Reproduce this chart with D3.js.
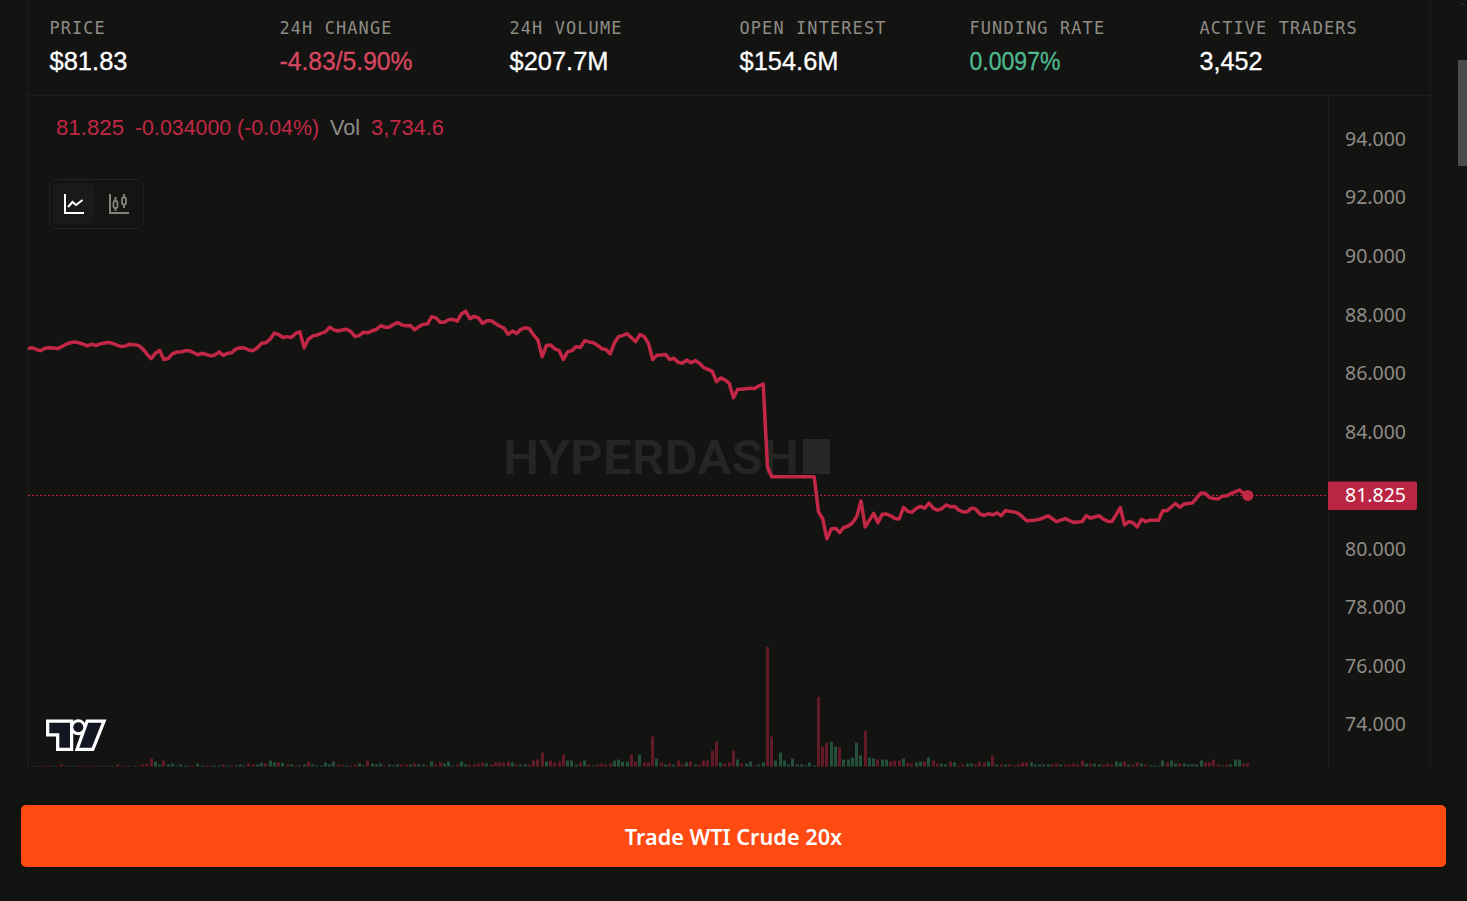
<!DOCTYPE html>
<html>
<head>
<meta charset="utf-8">
<script src="https://cdn.jsdelivr.net/npm/d3@7"></script>
<style>
  html, body { margin: 0; padding: 0; background: #121211; overflow: hidden; }
  svg { display: block; }
  .label { font-family: "DejaVu Sans Mono", monospace; font-size: 18px; fill: #8f8b85; letter-spacing: 1.2px; }
  .value { font-family: "Liberation Sans", sans-serif; font-size: 25.5px; stroke-width: 0.3px; }
  .legend { font-family: "Liberation Sans", sans-serif; font-size: 22px; }
  .axis text { font-family: "Noto Sans", sans-serif; font-size: 20.5px; fill: #8f8b85; }
</style>
</head>
<body>
<div id="chart"></div>
<script>
// header stats
const statLabels = ["PRICE", "24H CHANGE", "24H VOLUME", "OPEN INTEREST", "FUNDING RATE", "ACTIVE TRADERS"]
const statValues = ["$81.83", "-4.83/5.90%", "$207.7M", "$154.6M", "0.0097%", "3,452"]
const statColors = ["#ffffff", "#d8475f", "#ffffff", "#ffffff", "#4fb98f", "#ffffff"]
const statWidths = [78, 133, 99, 99, 91, 63]

// price axis
const priceTicks = [94, 92, 90, 88, 86, 84, 80, 78, 76, 74]
const lastPrice = 81.825

// close prices
const prices = [
  86.84, 86.87, 86.81, 86.77, 86.85, 86.87, 86.86, 86.84, 86.91, 86.99,
  87.04, 87.07, 87.04, 86.99, 86.93, 86.99, 86.94, 87.00, 87.03, 87.05,
  87.02, 86.96, 86.91, 86.93, 86.99, 86.97, 86.95, 86.84, 86.66, 86.50,
  86.68, 86.78, 86.47, 86.50, 86.66, 86.72, 86.72, 86.77, 86.77, 86.70,
  86.63, 86.68, 86.64, 86.59, 86.62, 86.73, 86.61, 86.68, 86.70, 86.83,
  86.87, 86.86, 86.79, 86.77, 86.87, 87.02, 87.04, 87.16, 87.37, 87.32,
  87.22, 87.25, 87.22, 87.36, 87.41, 86.87, 87.16, 87.27, 87.30, 87.36,
  87.41, 87.57, 87.48, 87.44, 87.48, 87.50,
  87.42, 87.25, 87.29, 87.40, 87.38, 87.45, 87.50, 87.62, 87.57, 87.57,
  87.66, 87.73, 87.65, 87.62, 87.63, 87.48, 87.59, 87.67, 87.68, 87.93,
  87.89, 87.74, 87.74, 87.83, 87.84, 87.78, 88.02, 88.12, 87.86, 87.94,
  87.89, 87.70, 87.79, 87.79, 87.70, 87.61, 87.54, 87.33, 87.44, 87.36,
  87.50, 87.55, 87.52, 87.30, 87.13, 86.56, 86.95, 86.96, 86.83, 86.77,
  86.47, 86.73, 86.77, 86.91, 86.88, 87.11, 87.07, 87.04, 86.96, 86.84,
  86.81, 86.66, 87.04, 87.25, 87.29, 87.35, 87.21, 87.08, 87.32, 87.25,
  87.02, 86.47, 86.61, 86.62, 86.64, 86.47, 86.51, 86.37, 86.34, 86.45,
  86.36, 86.43, 86.34, 86.19, 86.13, 86.06, 85.71, 85.84, 85.77, 85.65,
  85.16, 85.45, 85.45, 85.47, 85.49, 85.48, 85.57, 85.63,
  82.80,
  82.46, 82.46, 82.46, 82.46, 82.46, 82.46, 82.46, 82.46, 82.46, 82.46, 82.46,
  81.27, 81.02, 80.34, 80.68, 80.70, 80.56, 80.73, 80.78, 80.89, 81.10,
  81.63, 80.75, 80.98, 81.21, 80.89, 81.18, 81.19, 81.13, 81.04, 81.02,
  81.42, 81.28, 81.25, 81.38, 81.45, 81.39, 81.56, 81.39, 81.32, 81.37,
  81.50, 81.44, 81.45, 81.32, 81.26, 81.27, 81.39, 81.36, 81.19, 81.14,
  81.20, 81.16, 81.23, 81.13, 81.31, 81.28, 81.26, 81.21, 81.09, 80.96,
  80.97, 80.98, 81.01, 81.07, 81.13, 81.03, 80.93, 80.98, 81.03, 80.97,
  80.90, 80.92, 80.93, 81.13, 81.05, 81.09, 81.13, 81.02, 80.94, 80.93,
  81.16, 81.41, 80.82, 80.93, 80.89, 80.75, 81.01, 80.93, 80.98, 80.98,
  80.98, 81.30, 81.30, 81.43, 81.55, 81.42, 81.53, 81.55, 81.57, 81.74,
  81.91, 81.90, 81.75, 81.72, 81.70, 81.80, 81.81, 81.89, 81.95, 82.01,
  81.90, 81.825
]

// volume per bar, in thousands
const volumes = [
  0.8, 0.8, 0.8, 0.8, 0.8, 0.8, 0.8, 0.8, 2.5, 0.8,
  0.8, 0.8, 0.8, 0.8, 0.8, 0.8, 0.8, 0.8, 0.8, 0.8,
  0.8, 2.5, 0.8, 0.8, 0.8, 0.8, 0.8, 2.5, 3.7, 10,
  6.2, 2.5, 7.5, 2.5, 3.7, 1.2, 2.5, 1.2, 1.2, 1.2,
  3.7, 1.2, 1.2, 1.2, 1.2, 1.2, 2.5, 1.2, 1.2, 1.2,
  2.5, 1.2, 3.7, 2.5, 2.5, 5, 3.7, 7.5, 5, 5,
  5, 2.5, 2.5, 1.2, 1.2, 2.5, 6.2, 2.5, 1.2, 1.2,
  5, 2.5, 6.2, 2.5, 1.2, 1.2, 1.2, 2.5, 3.7, 1.2,
  7.5, 3.7, 2.5, 3.7, 1.2, 2.5, 1.2, 2.5, 2.5, 2.5,
  2.5, 3.7, 2.5, 2.5, 1.2, 6.2, 2.5,
  5, 3.7, 6.2, 1.2, 2.5, 6.2, 2.5, 2.5, 2.5, 3.7,
  5, 3.7, 2.5, 5, 5, 5, 6.2, 5, 2.5, 2.5,
  2.5, 2.5, 7.5, 8.7, 17.4, 6.2, 7.5, 5, 6.2, 14.9,
  7.5, 7.5, 2.5, 5, 7.5, 2.5, 1.2, 2.5, 3.7, 2.5,
  3.7, 7.5, 8.7, 6.2, 6.2, 14.9, 6.2, 14.9, 5, 5,
  37.4, 10, 5, 2.5, 3.7, 2.5, 7.5, 2.5, 5, 6.2,
  2.5, 2.5, 7.5, 7.5, 19.9, 31.1, 5, 3.7, 5, 19.9,
  8.7, 3.7, 3.7, 6.2, 1.2, 2.5, 5, 149.4, 37.4, 7.5,
  17.4, 7.5, 2.5, 10, 2.5, 2.5, 1.2, 5, 1.2, 87.2,
  24.9, 29.9, 31.1, 24.9, 23.7, 8.7, 8.7, 11.2, 29.9,
  13.7, 44.8, 11.2, 10, 8.7, 8.7, 8.7, 6.2, 7.5, 7.5,
  10, 5, 3.7, 5, 6.2, 6.2, 11.2, 7.5, 3.7, 3.7,
  2.5, 6.2, 5, 1.2, 2.5, 3.7, 3.7, 2.5, 6.2, 5,
  6.2, 13.7, 2.5, 2.5, 2.5, 2.5, 1.2, 2.5, 5, 5,
  5, 2.5, 2.5, 2.5, 2.5, 2.5, 3.7, 2.5, 2.5, 2.5,
  3.7, 2.5, 7.5, 3.7, 3.7, 3.7, 2.5, 2.5, 3.7, 2.5,
  6.2, 5, 6.2, 2.5, 2.5, 5, 3.7, 2.5, 1.2, 1.2,
  1.2, 7.5, 5, 7.5, 3.7, 3.7, 3.7, 2.5, 2.5, 2.5,
  7.5, 5, 5, 8.7, 2.5, 1.2, 2.5, 2.5, 8.7, 8.7,
  3.7, 3.7
]
// bar direction, same order as volumes: g = up, r = down
const volumeSides = [
  "ggrrrrgrrg", "ggrrrrrggg", "grrrggrrrr", "ggrgggggrr", "ggrrggrgrg",
  "ggrrggrggr", "grgrggrggg", "gggrrgrrgg", "rgggrgggrr", "grggrgr",
  "rgggrggrrr", "rgrrrrrgrg", "grrrrgrrrr", "gggrgrgrrr", "rggggrrgrr",
  "rgrgrgrrgr", "grrrrrgrrr", "grggrggrrg", "gggggggggr", "rrggrgggg",
  "grggrggrrr", "grrggrgrrg", "grgrrggrrr", "grgrgrrrrr", "gggggrrgrr",
  "rrrgrggrrr", "ggrgrrgrgg", "ggrggrgggg", "grrrrgrggg", "rr"
].join("")

const width = 1467, height = 901
const redLine = "#c22845", borderColor = "#1f1e1d", mutedText = "#8f8b85"

let svg = d3.select("#chart").append("svg")
  .attr("width", width)
  .attr("height", height)

// panel frame
svg.append("rect").attr("x", 27).attr("y", 0).attr("width", 1403).attr("height", 767).attr("fill", "#131312")
const frame = [[27, 0, 27, 767], [1430, 0, 1430, 767], [27, 95.5, 1430, 95.5], [1328, 96, 1328, 767]]
svg.selectAll("line.frame")
  .data(frame)
  .enter()
  .append("line")
  .attr("class", "frame")
  .attr("x1", d => d[0] + (d[0] === d[2] ? 0.5 : 0))
  .attr("y1", d => d[1])
  .attr("x2", d => d[2] + (d[0] === d[2] ? 0.5 : 0))
  .attr("y2", d => d[3])
  .attr("stroke", borderColor)

// stats row
let stats = svg.selectAll("g.stat")
  .data(statLabels)
  .enter()
  .append("g")
  .attr("class", "stat")
  .attr("transform", (d, i) => `translate(${49.5 + i * 230},0)`)
stats.append("text").attr("class", "label").attr("y", 34)
  .attr("textLength", d => d.length * 11.35 - 0.5)
  .attr("lengthAdjust", "spacingAndGlyphs")
  .text(d => d)
stats.append("text").attr("class", "value").attr("y", 70)
  .attr("fill", (d, i) => statColors[i])
  .attr("stroke", (d, i) => statColors[i])
  .attr("textLength", (d, i) => statWidths[i])
  .attr("lengthAdjust", "spacingAndGlyphs")
  .text((d, i) => statValues[i])

// scales
const x = d3.scalePoint(d3.range(prices.length), [27.8, 1247.8])
const y = d3.scaleLinear([94, 74], [139, 724.5])
const yVol = d3.scaleLinear([0, d3.max(volumes)], [766.5, 647])

svg.append("clipPath").attr("id", "pane")
  .append("rect").attr("x", 28).attr("y", 96).attr("width", 1300).attr("height", 671)

// watermark sits under the marks
svg.append("text")
  .attr("x", 503).attr("y", 474)
  .attr("font-family", "Roboto, sans-serif")
  .attr("font-weight", 600)
  .attr("font-size", 49)
  .attr("textLength", 296)
  .attr("lengthAdjust", "spacingAndGlyphs")
  .attr("fill", "#252524")
  .text("HYPERDASH")
svg.append("rect").attr("x", 803).attr("y", 439).attr("width", 27).attr("height", 35).attr("fill", "#282726")

let pane = svg.append("g").attr("clip-path", "url(#pane)")

// volume bars
pane.selectAll("rect.vol")
  .data(volumes)
  .enter()
  .append("rect")
  .attr("class", "vol")
  .attr("x", (d, i) => Math.round(x(i) - 1.5))
  .attr("y", d => yVol(d))
  .attr("width", 3)
  .attr("height", d => yVol(0) - yVol(d))
  .attr("fill", (d, i) => volumeSides[i] === "g" ? "#244f3d" : "#621b26")

// last price line
svg.append("line")
  .attr("x1", 28).attr("x2", 1328)
  .attr("y1", y(lastPrice)).attr("y2", y(lastPrice))
  .attr("stroke", redLine)
  .attr("stroke-width", 1)
  .attr("stroke-dasharray", "2,2")

// price line
const line = d3.line()
  .x((d, i) => x(i))
  .y(d => y(d))
pane.append("path")
  .datum(prices)
  .attr("d", line)
  .attr("fill", "none")
  .attr("stroke", redLine)
  .attr("stroke-width", 3.5)
  .attr("stroke-linejoin", "round")
pane.append("circle")
  .attr("cx", x(prices.length - 1))
  .attr("cy", y(lastPrice))
  .attr("r", 5.5)
  .attr("fill", redLine)

// price axis
let axis = svg.append("g")
  .attr("class", "axis")
  .attr("transform", "translate(1328,0)")
  .call(d3.axisRight(y).tickValues(priceTicks).tickSize(0).tickFormat(d3.format(".3f")))
axis.select(".domain").remove()
axis.selectAll("text")
  .attr("x", 17)
  .attr("dy", "0.31em")
  .attr("textLength", 61)
  .attr("lengthAdjust", "spacingAndGlyphs")

// last price tag
svg.append("path")
  .attr("d", "M1328,481.5H1415a2,2 0 0 1 2,2V508a2,2 0 0 1 -2,2H1328Z")
  .attr("fill", "#b92542")
svg.append("text")
  .attr("x", 1345).attr("y", y(lastPrice))
  .attr("dy", "0.33em")
  .attr("font-family", "Noto Sans, sans-serif")
  .attr("font-size", 20.5)
  .attr("textLength", 61)
  .attr("lengthAdjust", "spacingAndGlyphs")
  .attr("fill", "#ffffff")
  .text(d3.format(".3f")(lastPrice))

// legend line
const legendParts = [
  ["81.825", 56, redLine, 68], ["-0.034000 (-0.04%)", 135, redLine, 184],
  ["Vol", 330, mutedText, 30], ["3,734.6", 371, redLine, 73]
]
svg.selectAll("text.legend")
  .data(legendParts)
  .enter()
  .append("text")
  .attr("class", "legend")
  .attr("x", d => d[1])
  .attr("y", 135)
  .attr("fill", d => d[2])
  .attr("textLength", d => d[3])
  .attr("lengthAdjust", "spacingAndGlyphs")
  .text(d => d[0])

// chart type switch
svg.append("rect").attr("x", 49.5).attr("y", 179.5).attr("width", 94).attr("height", 49).attr("rx", 6)
  .attr("fill", "#141413").attr("stroke", "#222120")
svg.append("rect").attr("x", 53).attr("y", 183).attr("width", 42).attr("height", 41).attr("rx", 5).attr("fill", "#1a1918")
svg.append("path")
  .attr("d", "M65,194V213H84M68,207L72.5,202L76,205L82.5,200")
  .attr("fill", "none").attr("stroke", "#ffffff").attr("stroke-width", 2)
svg.append("path")
  .attr("d", "M110,194V213H129M115.5,197V211M124,194V208")
  .attr("fill", "none").attr("stroke", "#85817b").attr("stroke-width", 2)
svg.selectAll("rect.candle")
  .data([[113.5, 201], [122, 197.5]])
  .enter()
  .append("rect")
  .attr("class", "candle")
  .attr("x", d => d[0]).attr("y", d => d[1])
  .attr("width", 4).attr("height", 7).attr("rx", 1.5)
  .attr("fill", "#141413").attr("stroke", "#85817b").attr("stroke-width", 1.8)

// TradingView mark
const tvT = "M49.3,722.7H70V747.7H59.3V733.3H49.3Z"
const tvSlash = "M88.3,722.7H101.7L91.7,747.7H79.3Z"
const tvGroup = svg.append("g")
tvGroup.selectAll("path.out").data([tvT, tvSlash]).enter().append("path").attr("class", "out").attr("d", d => d)
  .attr("fill", "#ffffff").attr("stroke", "#ffffff").attr("stroke-width", 6.5)
tvGroup.append("circle").attr("cx", 78.3).attr("cy", 727.3).attr("r", 8).attr("fill", "#ffffff")
tvGroup.selectAll("path.in").data([tvT, tvSlash]).enter().append("path").attr("class", "in").attr("d", d => d).attr("fill", "#131722")
tvGroup.append("circle").attr("cx", 78.3).attr("cy", 727.3).attr("r", 5).attr("fill", "#131722")

// trade button
svg.append("rect").attr("x", 21).attr("y", 805).attr("width", 1425).attr("height", 62).attr("rx", 5).attr("fill", "#ff4a12")
svg.append("text")
  .attr("x", 733.5).attr("y", 845)
  .attr("text-anchor", "middle")
  .attr("font-family", "Noto Sans, sans-serif")
  .attr("font-weight", 600)
  .attr("font-size", 21.7)
  .attr("fill", "#ffffff")
  .text("Trade WTI Crude 20x")

// page scrollbar
svg.append("rect").attr("x", 1458).attr("y", 60).attr("width", 9).attr("height", 106).attr("fill", "#4b4b4b")
svg.append("path").attr("d", "M1459.5,6L1462.5,3L1465.5,6").attr("fill", "none").attr("stroke", "#3a3a3a")
</script>
</body>
</html>
